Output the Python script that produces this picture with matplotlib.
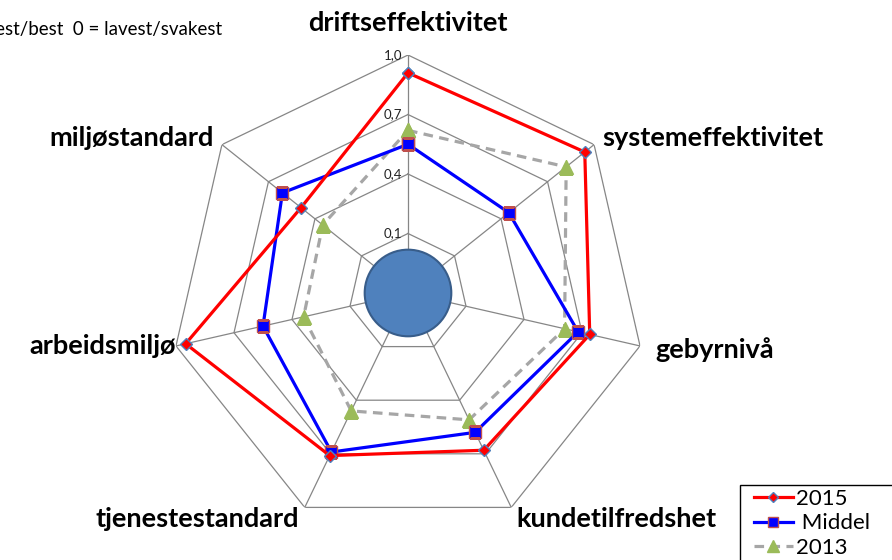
import numpy as np
import matplotlib.pyplot as plt
from matplotlib.patches import Circle, Rectangle

plt.rcParams['font.family'] = ['Lato', 'DejaVu Sans']

categories = ["driftseffektivitet", "systemeffektivitet", "gebyrnivå",
              "kundetilfredshet", "tjenestestandard", "arbeidsmiljø",
              "miljøstandard"]
v2015 = [0.91, 0.94, 0.74, 0.68, 0.71, 0.95, 0.49]
middel = [0.55, 0.45, 0.68, 0.58, 0.69, 0.55, 0.61]
v2013 = [0.62, 0.82, 0.61, 0.51, 0.46, 0.34, 0.35]
grid_levels = [0.1, 0.4, 0.7, 1.0]
grid_labels = ["0,1", "0,4", "0,7", "1,0"]
rmin, rmax = -0.2, 1.0

n = len(categories)
theta = np.arange(n) * 2 * np.pi / n
tc = np.append(theta, theta[0])

fig = plt.figure(figsize=(8.92, 5.6), dpi=100)
ax = fig.add_axes([0.1906, 0.0518, 0.5336, 0.85], projection="polar")
ax.set_theta_zero_location("N")
ax.set_theta_direction(-1)
ax.set_ylim(rmin, rmax)
ax.grid(False)
ax.spines["polar"].set_visible(False)
ax.set_xticks([])
ax.set_yticks([])
ax.patch.set_alpha(0)

# heptagon grid + spokes
for lv in grid_levels:
    ax.plot(tc, [lv] * (n + 1), color="#868686", lw=0.9, zorder=1)
for t in theta:
    ax.plot([t, t], [rmin, rmax], color="#868686", lw=0.9, zorder=1)
for lv, lab in zip(grid_levels, grid_labels):
    ax.annotate(lab, (0, lv), xytext=(-4, 0), textcoords="offset points",
                ha="right", va="center", fontsize=9.5, color="#222222")

def closed(vals):
    return np.append(vals, vals[0])

ax.plot(tc, closed(v2015), color="#FF0000", lw=2.3, marker="D", ms=6.5,
        mfc="#FF0000", mec="#4F81BD", mew=1.0, label="2015", zorder=5)
ax.plot(tc, closed(middel), color="#0000FF", lw=2.3, marker="s", ms=9,
        mfc="#0000FF", mec="#C0504D", mew=1.0, label=" Middel", zorder=4)
ax.plot(tc, closed(v2013), color="#A6A6A6", lw=2.3, ls=(0, (3, 2)),
        marker="^", ms=9.5, mfc="#9BBB59", mec="#9BBB59", label="2013",
        zorder=3)

ax.add_patch(Circle((0.5, 0.5), 0.091, transform=ax.transAxes,
                    facecolor="#4F81BD", edgecolor="#385D8A", lw=1.5,
                    zorder=6))

# category labels
label_r = [1.16, 1.05, 1.08, 1.065, 1.065, 1.0, 1.055]
label_ha = ["center", "left", "left", "left", "right", "right", "right"]
for t, name, r, ha in zip(theta, categories, label_r, label_ha):
    ax.text(t, r, name, ha=ha, va="center", fontsize=19.5, fontweight="bold",
            clip_on=False)

fig.text(222 / 892, 1 - 30 / 560, "1 = høyest/best  0 = lavest/svakest",
         ha="right", va="center", fontsize=13.5)

# legend (box runs off the bottom/right edge like the original)
leg = fig.legend(loc="upper left", bbox_to_anchor=(754 / 892, 1 - 489 / 560),
                 fontsize=16, frameon=False, borderpad=0,
                 labelspacing=0.2, handlelength=1.75, handletextpad=0.15,
                 borderaxespad=0, markerscale=0.85)
fig.patches.append(Rectangle((740 / 892, -0.05), 0.3, 0.05 + 75 / 560,
                             transform=fig.transFigure, fill=False,
                             edgecolor="black", lw=1.0))

fig.savefig("out.png", dpi=100)
